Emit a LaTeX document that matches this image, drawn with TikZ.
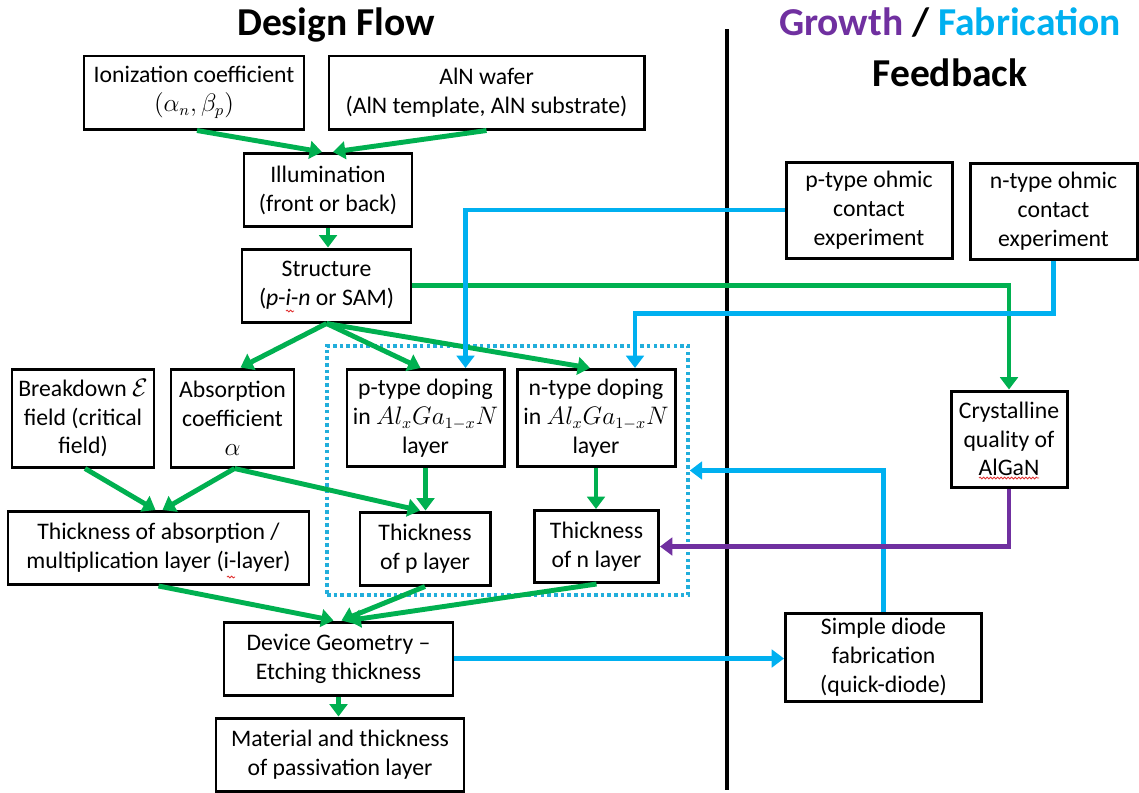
\documentclass[tikz,border=0pt]{standalone}
\usepackage{fontspec}
\setmainfont{Carlito}
\usetikzlibrary{arrows.meta,calc,decorations.pathmorphing}
\definecolor{gr}{HTML}{00B050}
\definecolor{bl}{HTML}{00B0F0}
\definecolor{pu}{HTML}{7030A0}
\definecolor{dotc}{HTML}{22AEDB}
\definecolor{sq}{HTML}{E03030}
\begin{document}
\begin{tikzpicture}[x=0.02cm,y=-0.02cm,
  box/.style={draw, line width=1.7pt, align=center, inner sep=0pt,
    font=\fontsize{13.5}{16.4}\selectfont},
  sz/.style 2 args={minimum width=#1*0.02cm, minimum height=#2*0.02cm},
  tip/.style={-{Triangle[width=10pt,length=7pt]}},
  garr/.style={draw=gr, line width=2.8pt, tip},
  barr/.style={draw=bl, line width=2.5pt, tip},
  parr/.style={draw=pu, line width=2.5pt, tip},
  grpbox/.style={draw=dotc, line width=2pt, dash pattern=on 2pt off 1.8pt, inner sep=0pt},
  ttl/.style={font=\fontsize{22.5}{27}\selectfont\bfseries, anchor=base, inner sep=0pt},
  squig/.style={draw=sq, line width=0.5pt, decorate, decoration={snake, amplitude=0.5pt, segment length=2pt}}]
\useasboundingbox (0,0) rectangle (1139,792);

% titles
\node[ttl] (t1) at (336,35) {Design Flow};
\node[ttl] (t2) at (950,35) {\textcolor{pu}{Growth} / \textcolor{bl}{Fabrication}};
\node[ttl] (t3) at (950,86) {Feedback};

% divider
\draw[line width=2.8pt] (727,29) -- (727,790);

% dotted group
\node[grpbox, sz={361}{249}] (grp) at (507.5,470.5) {};

% design flow boxes
\node[box,sz={220}{73}] (ion) at (194,92.5) {Ionization coefficient\\$(\alpha_n,\beta_p)$};
\node[box,sz={315}{73}] (aln) at (486.5,92.5) {AlN wafer\\(AlN template, AlN substrate)};
\node[box,sz={168}{73}] (ill) at (328,190) {Illumination\\(front or back)};
\node[box,sz={169}{73}] (str) at (326.5,285.5) {Structure\\(\textit{p}-\textit{i}-\textit{n} or SAM)};
\node[box,sz={142}{98}] (brk) at (83,418) {Breakdown $\mathcal{E}$\\field (critical\\field)};
\node[box,sz={123}{98}] (abso) at (232.5,418) {Absorption\\coefficient\\$\alpha$};
\node[box,sz={157}{97}] (pdop) at (425.5,418) {p-type doping\\in $Al_xGa_{1-x}N$\\layer};
\node[box,sz={158}{97}] (ndop) at (596,418) {n-type doping\\in $Al_xGa_{1-x}N$\\layer};
\node[box,sz={301}{73}] (tabs) at (158.5,548) {Thickness of absorption /\\multiplication layer (i-layer)};
\node[box,sz={130}{73}] (tp) at (425,548.5) {Thickness\\of p layer};
\node[box,sz={124}{72}] (tn) at (596.5,546.5) {Thickness\\of n layer};
\node[box,sz={229}{73}] (dev) at (338.5,658.5) {Device Geometry --\\Etching thickness};
\node[box,sz={248}{73}] (mat) at (340,754.5) {Material and thickness\\of passivation layer};

% feedback boxes
\node[box,sz={166}{96}] (pohm) at (869,210) {p-type ohmic\\contact\\experiment};
\node[box,sz={167}{96}] (nohm) at (1053.5,211) {n-type ohmic\\contact\\experiment};
\node[box,sz={116}{96}] (cry) at (1009,439) {Crystalline\\quality of\\AlGaN};
\node[box,sz={196}{88}] (dio) at (883.5,657) {Simple diode\\fabrication\\(quick-diode)};

% spell-check squiggles
\draw[squig] (286,311) -- (294,311);
\draw[squig] (227,577) -- (235,577);
\draw[squig] (979,478) -- (1039,478);

% green design-flow arrows
\draw[garr] ($(ion.south)+(3,0)$) -- ($(ill.north)+(-6,0)$);
\draw[garr] (aln.south) -- ($(ill.north)+(5,0)$);
\draw[garr] (ill.south) -- (ill.south |- str.north);
\draw[garr] (str.south) -- ($(abso.north)+(8,0)$);
\draw[garr] (str.south) -- ($(pdop.north)+(-5,0)$);
\draw[garr] (str.south) -- ($(ndop.north)+(-6,0)$);
\draw[garr] (str.east) -| (cry.north);
\draw[garr] ($(brk.south)+(2,0)$) -- ($(tabs.north)+(-3,0)$);
\draw[garr] ($(abso.south)+(2,0)$) -- ($(tabs.north)+(4,0)$);
\draw[garr] ($(abso.south)+(2,0)$) -- ($(tp.north)+(-5,0)$);
\draw[garr] (pdop.south) -- (pdop.south |- tp.north);
\draw[garr] (ndop.south) -- (ndop.south |- tn.north);
\draw[garr] (tabs.south) -- ($(dev.north)+(-5,0)$);
\draw[garr] (tp.south) -- ($(dev.north)+(3,0)$);
\draw[garr] (tn.south) -- ($(dev.north)+(10,0)$);
\draw[garr] (dev.south) -- (dev.south |- mat.north);

% blue fabrication feedback
\draw[barr] (pohm.west) -| ($(pdop.north)+(40,0)$);
\draw[barr] (nohm.south) -- ++(0,53) -| ($(ndop.north)+(39,0)$);
\draw[barr] (dev.east) -- (dev.east -| dio.west);
\draw[barr] (dio.north) |- (grp.east);

% purple growth feedback
\draw[parr] (cry.south) |- (tn.east);
\end{tikzpicture}
\end{document}
